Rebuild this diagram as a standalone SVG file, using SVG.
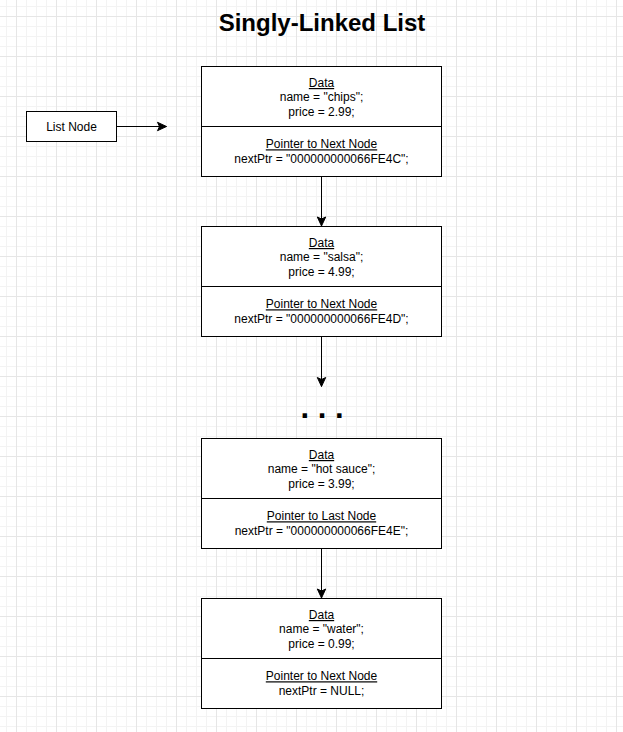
<svg xmlns="http://www.w3.org/2000/svg" width="623" height="732" viewBox="0 0 623 732">
<defs>
<pattern id="grid" patternUnits="userSpaceOnUse" x="16" y="16" width="40" height="40">
<rect width="40" height="40" fill="#ffffff"/>
<path d="M10.5 0V40M20.5 0V40M30.5 0V40M0 10.5H40M0 20.5H40M0 30.5H40" stroke="#f3f3f3" stroke-width="1" fill="none"/>
<path d="M0.5 0V40M0 0.5H40" stroke="#e6e6e6" stroke-width="1" fill="none"/>
</pattern>
<marker id="arr" markerUnits="userSpaceOnUse" markerWidth="12" markerHeight="10" viewBox="-10 -5 12 10" refX="0" refY="0" orient="auto" overflow="visible">
<path d="M0 0L-9 -4.2L-7 0L-9 4.2Z" fill="#000" stroke="#000" stroke-width="1" stroke-linejoin="miter"/>
</marker>
<style>
.box{fill:#fff;stroke:#000;stroke-width:1}
.t{font-family:"Liberation Sans",Arial,sans-serif;font-size:12px;fill:#000;text-anchor:middle}
.u{text-decoration:underline}
.edge{stroke:#000;stroke-width:1;fill:none;marker-end:url(#arr)}
</style>
</defs>
<rect x="0" y="0" width="623" height="732" fill="url(#grid)"/>
<text x="322" y="31" font-family="Liberation Sans,Arial,sans-serif" font-size="24" font-weight="bold" text-anchor="middle" fill="#000">Singly-Linked List</text>
<g id="listnode">
<rect class="box" x="26.5" y="111.5" width="90" height="30"/>
<text class="t" x="71.5" y="130.5">List Node</text>
</g>
<g id="node1">
<rect class="box" x="201.5" y="66.5" width="240" height="60"/>
<rect class="box" x="201.5" y="126.5" width="240" height="50"/>
<text class="t u" x="321.5" y="87">Data</text>
<text class="t" x="321.5" y="101.4">name = "chips";</text>
<text class="t" x="321.5" y="115.8">price = 2.99;</text>
<text class="t u" x="321.5" y="148.3">Pointer to Next Node</text>
<text class="t" x="321.5" y="162.7">nextPtr = "000000000066FE4C";</text>
</g>
<g id="node2">
<rect class="box" x="201.5" y="226.5" width="240" height="60"/>
<rect class="box" x="201.5" y="286.5" width="240" height="50"/>
<text class="t u" x="321.5" y="247">Data</text>
<text class="t" x="321.5" y="261.4">name = "salsa";</text>
<text class="t" x="321.5" y="275.8">price = 4.99;</text>
<text class="t u" x="321.5" y="308.3">Pointer to Next Node</text>
<text class="t" x="321.5" y="322.7">nextPtr = "000000000066FE4D";</text>
</g>
<g id="ellipsis">
<text x="322" y="417.5" font-family="Liberation Sans,Arial,sans-serif" font-size="31" font-weight="bold" text-anchor="middle" fill="#000">. . .</text>
</g>
<g id="node3">
<rect class="box" x="201.5" y="438.5" width="240" height="60"/>
<rect class="box" x="201.5" y="498.5" width="240" height="50"/>
<text class="t u" x="321.5" y="459">Data</text>
<text class="t" x="321.5" y="473.4">name = "hot sauce";</text>
<text class="t" x="321.5" y="487.8">price = 3.99;</text>
<text class="t u" x="321.5" y="520.3">Pointer to Last Node</text>
<text class="t" x="321.5" y="534.7">nextPtr = "000000000066FE4E";</text>
</g>
<g id="node4">
<rect class="box" x="201.5" y="598.5" width="240" height="60"/>
<rect class="box" x="201.5" y="658.5" width="240" height="50"/>
<text class="t u" x="321.5" y="619">Data</text>
<text class="t" x="321.5" y="633.4">name = "water";</text>
<text class="t" x="321.5" y="647.8">price = 0.99;</text>
<text class="t u" x="321.5" y="680.3">Pointer to Next Node</text>
<text class="t" x="321.5" y="694.7">nextPtr = NULL;</text>
</g>
<g id="connectors">
<path class="edge" d="M116.5 126.5H166.5"/>
<path class="edge" d="M321.5 176.5V226"/>
<path class="edge" d="M321.5 336.5V386.5"/>
<path class="edge" d="M321.5 548.5V598"/>
</g>
</svg>
